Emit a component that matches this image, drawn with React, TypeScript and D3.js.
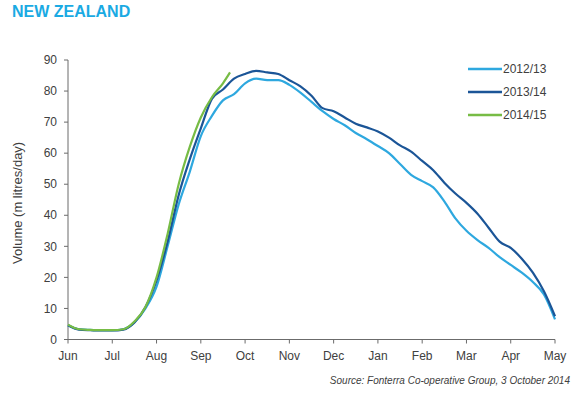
import React from "react";
import * as d3 from "d3";

const monthLabels = ["Jun", "Jul", "Aug", "Sep", "Oct", "Nov", "Dec", "Jan", "Feb", "Mar", "Apr", "May"];
const yTicks = [0, 10, 20, 30, 40, 50, 60, 70, 80, 90];

// positions in months from 1 June (weekly steps)
const weekPos = [
  0, 0.25, 0.5, 0.75, 1, 1.25, 1.5, 1.75, 2, 2.25, 2.5, 2.75, 3, 3.25, 3.5, 3.75,
  4, 4.25, 4.5, 4.75, 5, 5.25, 5.5, 5.75, 6, 6.25, 6.5, 6.75, 7, 7.25, 7.5, 7.75,
  8, 8.25, 8.5, 8.75, 9, 9.25, 9.5, 9.75, 10, 10.25, 10.5, 10.75, 11,
];

const s2012 = [
  4.6, 3.3, 3.1, 3.0, 3.0, 3.3, 5.5, 10, 17, 30, 43.5, 54, 65.5, 72, 77, 79,
  82.5, 84, 83.5, 83.5, 82, 79.5, 76.5, 73.5, 71, 69, 66.5, 64.5, 62.3, 60, 56.5, 53,
  51, 49, 44.5, 39, 35, 32, 29.5, 26.5, 24, 21.5, 18.5, 14.5, 6.5,
];

const s2013 = [
  4.6, 3.2, 3.0, 2.9, 2.9, 3.2, 5.5, 10.5, 19, 31.5, 46.5, 58, 68, 77.5, 80.5, 84,
  85.5, 86.5, 86, 85.5, 83.5, 81.5, 78.5, 74.5, 73.5, 71.5, 69.5, 68.3, 67, 65, 62.5, 60.5,
  57.5, 54.5, 50.5, 47, 44, 40.5, 36, 31.5, 29.5, 26, 21.5, 15.5, 7.5,
];

const pos2014 = [0, 0.25, 0.5, 0.75, 1, 1.25, 1.5, 1.75, 2, 2.25, 2.5, 2.75, 3, 3.25, 3.5, 3.66];
const s2014 = [4.8, 3.3, 3.1, 3.0, 3.0, 3.3, 5.8, 10.5, 20, 34, 50, 62, 71.5, 78, 82.5, 86];

const seriesNames = ["2012/13", "2013/14", "2014/15"];
const seriesColors = ["#2EA8DF", "#1B5597", "#77BC45"];

export default function App() {
  const x = d3.scaleLinear().domain([0, 11]).range([68, 555]);
  const y = d3.scaleLinear().domain([0, 90]).range([339.5, 60]);
  const gen = d3
    .line<[number, number]>()
    .x((d) => x(d[0]))
    .y((d) => y(d[1]))
    .curve(d3.curveMonotoneX);

  const data: [number, number][][] = [
    weekPos.map((p, i) => [p, s2012[i]] as [number, number]),
    weekPos.map((p, i) => [p, s2013[i]] as [number, number]),
    pos2014.map((p, i) => [p, s2014[i]] as [number, number]),
  ];

  const axisColor = "#6b6b6b";
  const textColor = "#404040";
  const font = "'Liberation Sans', Arial, sans-serif";

  return (
    <svg
      width={581}
      height={394}
      style={{ position: "absolute", left: 0, top: 0, background: "#fff" }}
      fontFamily={font}
    >
      <text x={12} y={17} fontSize={16} fontWeight="bold" fill="#1AAAE3">
        NEW ZEALAND
      </text>

      {/* y axis */}
      <line x1={68} x2={68} y1={y(90)} y2={y(0)} stroke={axisColor} strokeWidth={1} />
      {yTicks.map((t) => (
        <g key={t}>
          <line x1={64} x2={68} y1={y(t)} y2={y(t)} stroke={axisColor} />
          <text x={57} y={y(t)} dy="0.35em" textAnchor="end" fontSize={12} fill={textColor}>
            {t}
          </text>
        </g>
      ))}
      <text
        transform={`translate(22,${y(44)}) rotate(-90)`}
        textAnchor="middle"
        fontSize={13}
        fill={textColor}
      >
        Volume (m litres/day)
      </text>

      {/* x axis */}
      <line x1={x(0)} x2={x(11)} y1={y(0)} y2={y(0)} stroke={axisColor} strokeWidth={1} />
      {monthLabels.map((m, i) => (
        <g key={m}>
          <line x1={x(i)} x2={x(i)} y1={y(0)} y2={y(0) + 4} stroke={axisColor} />
          <text x={x(i)} y={360} textAnchor="middle" fontSize={12} fill={textColor}>
            {m}
          </text>
        </g>
      ))}

      {/* lines */}
      {data.map((d, i) => (
        <path key={i} d={gen(d) || ""} fill="none" stroke={seriesColors[i]} strokeWidth={2.2} strokeLinejoin="round" />
      ))}

      {/* legend */}
      {seriesNames.map((n, i) => (
        <g key={n}>
          <line x1={468} x2={502} y1={69 + i * 23} y2={69 + i * 23} stroke={seriesColors[i]} strokeWidth={2.5} />
          <text x={503} y={69 + i * 23} dy="0.35em" fontSize={12} fill={textColor}>
            {n}
          </text>
        </g>
      ))}

      <text x={570} y={384} textAnchor="end" fontSize={10} fontStyle="italic" fill={textColor}>
        Source: Fonterra Co-operative Group, 3 October 2014
      </text>
    </svg>
  );
}
